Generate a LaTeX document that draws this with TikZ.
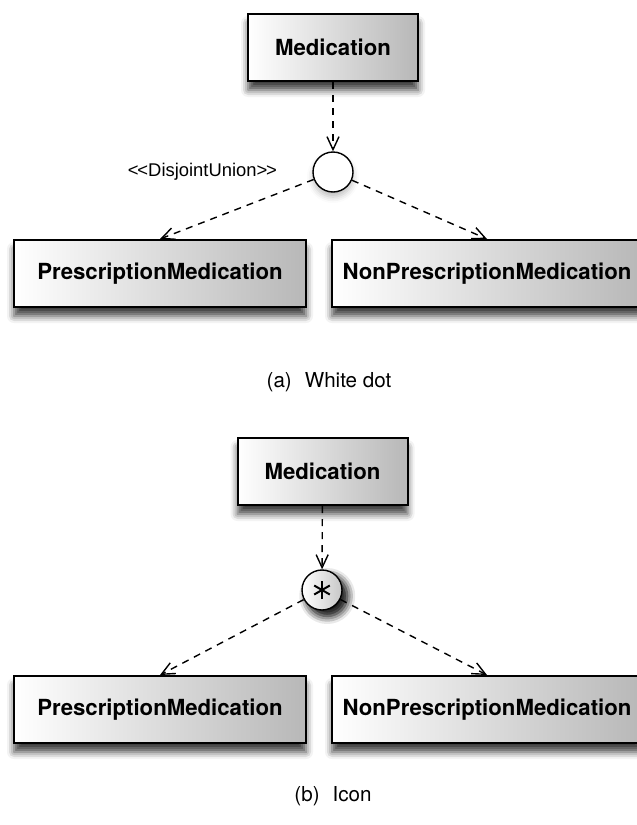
\documentclass[tikz,border=0pt]{standalone}
\usepackage{fontspec}
\setmainfont{TeX Gyre Heros}
\newfontfamily\stereofont{Liberation Sans}
\usetikzlibrary{arrows.meta,shadows.blur}

\begin{document}
\begin{tikzpicture}[x = 0.5pt, y = -0.5pt,
    classbox/.style = {draw, line width=1pt, left color=white, right color=black!28,
        minimum height=33.5pt, inner sep=0pt, font=\fontsize{11.1}{13}\selectfont\bfseries,
        blur shadow={shadow xshift=0pt, shadow yshift=-4.5pt, shadow blur radius=3.5pt, shadow opacity=75}},
    unionnode/.style = {circle, draw, line width=0.7pt, minimum size=20pt, inner sep=0pt,
        blur shadow={shadow xshift=0pt, shadow yshift=-2.5pt, shadow blur radius=3pt, shadow opacity=25}},
    gen/.style = {dash pattern=on 3.5pt off 3pt, line width=0.7pt,
        -{Straight Barb[length=6.5pt, width=6pt, line width=0.7pt]}},
    caption/.style = {font=\fontsize{10.3}{12}\selectfont}]

    % Page frame
    \useasboundingbox (0,0) rectangle (637,825);

    % First version: white dot
    \node[classbox, minimum width=85pt] (med_a) at (333,47.5) {Medication};
    \node[unionnode, fill=white] (union_a) at (333,172) {};
    \node[font=\stereofont\fontsize{9.2}{11}\selectfont, anchor=east] (stereo_a) at (284,172)
        {<\kern-0.6pt<DisjointUnion>\kern-0.6pt>};
    \node[classbox, minimum width=146pt] (pres_a) at (160,273.5) {PrescriptionMedication};
    \node[classbox, minimum width=155pt] (nonpres_a) at (487,273.5) {NonPrescriptionMedication};

    \draw[gen] (med_a) -- (union_a);
    \draw[gen] (union_a) -- (pres_a.north);
    \draw[gen] (union_a) -- (nonpres_a.north);

    \node[caption] (cap_a) at (329,382) {(a)\hspace{6.5pt}White dot};

    % Second version: icon
    \node[classbox, minimum width=85pt] (med_b) at (322.5,471.5) {Medication};
    \node[unionnode, left color=white, right color=black!22,
        blur shadow={shadow yshift=-3pt, shadow blur radius=4pt, shadow opacity=70}] (union_b) at (322,590) {};
    % asterisk icon
    \foreach \a in {30,90,150}
        \draw[line width=1pt] (union_b.center) ++(\a:9) -- ++(\a+180:18);
    \node[classbox, minimum width=146pt] (pres_b) at (160,709.5) {PrescriptionMedication};
    \node[classbox, minimum width=155pt] (nonpres_b) at (487,709.5) {NonPrescriptionMedication};

    \draw[gen] (med_b) -- (union_b);
    \draw[gen] (union_b) -- (pres_b.north);
    \draw[gen] (union_b) -- (nonpres_b.north);

    \node[caption] (cap_b) at (333,796) {(b)\hspace{6.5pt}Icon};
\end{tikzpicture}
\end{document}
